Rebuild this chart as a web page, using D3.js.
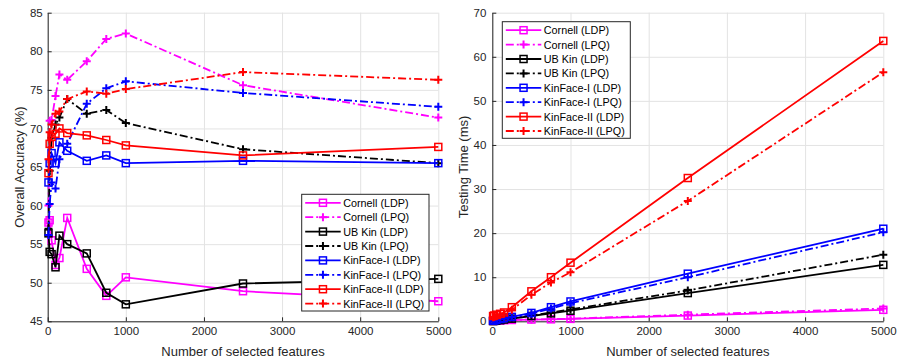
<!DOCTYPE html>
<html>
<head>
<meta charset="utf-8">
<script src="https://cdn.jsdelivr.net/npm/d3@7"></script>
<style>
  html, body { margin: 0; padding: 0; background: #fff; }
  svg { font-family: "Liberation Sans", Arial, Helvetica, sans-serif; }
  .grid line { stroke: #e3e3e3; stroke-width: 1; }
  .grid path { display: none; }
  .axis path, .axis line { stroke: #262626; }
  .axis text { fill: #262626; font-size: 11.5px; }
</style>
</head>
<body>
<svg id="chart" width="900" height="360"></svg>
<script>
// number of selected features (x values)
const features = [10, 25, 50, 100, 150, 250, 500, 750, 1000, 2500, 5000];

const seriesNames = [
  'Cornell (LDP)', 'Cornell (LPQ)', 'UB Kin (LDP)', 'UB Kin (LPQ)',
  'KinFace-I (LDP)', 'KinFace-I (LPQ)', 'KinFace-II (LDP)', 'KinFace-II (LPQ)'
];
const seriesColors = ['#ff00ff', '#ff00ff', '#000000', '#000000', '#0000ff', '#0000ff', '#ff0000', '#ff0000'];

// overall accuracy (%)
const accCornellLdp   = [57.8, 58.1, 55.5, 52.3, 53.2, 58.4, 51.8, 48.3, 50.7, 48.9, 47.6];
const accCornellLpq   = [60.0, 71.0, 71.1, 74.2, 77.0, 76.3, 78.7, 81.6, 82.3, 75.6, 71.4];
const accUbLdp        = [56.4, 54.0, 53.7, 52.0, 56.1, 55.0, 53.8, 48.7, 47.2, 49.9, 50.5];
const accUbLpq        = [57.0, 64.5, 68.8, 70.5, 71.4, 73.8, 71.9, 72.4, 70.7, 67.3, 65.5];
const accKinILdp      = [63.0, 65.5, 66.8, 65.5, 68.2, 67.1, 65.8, 66.5, 65.5, 65.8, 65.5];
const accKinILpq      = [56.2, 60.2, 63.0, 62.2, 66.0, 68.0, 73.2, 75.2, 76.1, 74.6, 72.8];
const accKinIILdp     = [64.2, 68.0, 68.9, 69.3, 70.0, 69.4, 69.1, 68.5, 67.8, 66.5, 67.6];
const accKinIILpq     = [66.0, 69.5, 70.5, 71.9, 72.2, 73.8, 74.8, 74.5, 75.1, 77.3, 76.3];

// testing time (ms)
const timeCornellLdp  = [0.1, 0.1, 0.15, 0.2, 0.25, 0.3, 0.4, 0.45, 0.55, 1.3, 2.6];
const timeCornellLpq  = [0.1, 0.12, 0.15, 0.2, 0.25, 0.3, 0.4, 0.5, 0.6, 1.5, 2.9];
const timeUbLdp       = [0.05, 0.1, 0.15, 0.25, 0.4, 0.6, 1.2, 1.8, 2.4, 6.4, 12.8];
const timeUbLpq       = [0.05, 0.1, 0.15, 0.3, 0.45, 0.7, 1.3, 2.0, 2.7, 7.0, 15.1];
const timeKinILdp     = [0.15, 0.2, 0.3, 0.5, 0.7, 1.0, 1.9, 3.2, 4.5, 10.8, 21.0];
const timeKinILpq     = [0.1, 0.2, 0.3, 0.45, 0.6, 0.9, 1.7, 2.9, 4.1, 10.0, 20.2];
const timeKinIILdp    = [1.2, 1.3, 1.5, 1.7, 2.0, 3.2, 6.8, 10.0, 13.3, 32.5, 63.6];
const timeKinIILpq    = [0.9, 1.0, 1.2, 1.4, 1.7, 2.6, 6.0, 8.8, 11.1, 27.3, 56.5];

const accTicks = [45, 50, 55, 60, 65, 70, 75, 80, 85];
const timeTicks = [0, 10, 20, 30, 40, 50, 60, 70];
const featureTicks = [0, 1000, 2000, 3000, 4000, 5000];

const accSeries = [accCornellLdp, accCornellLpq, accUbLdp, accUbLpq, accKinILdp, accKinILpq, accKinIILdp, accKinIILpq];
const timeSeries = [timeCornellLdp, timeCornellLpq, timeUbLdp, timeUbLpq, timeKinILdp, timeKinILpq, timeKinIILdp, timeKinIILpq];

const svg = d3.select('#chart');

function buildTable(series) {
  return seriesNames.map((name, i) => ({
    name: name,
    color: seriesColors[i],
    lpq: name.indexOf('LPQ') >= 0,
    values: features.map((f, j) => ({ x: f, y: series[i][j] }))
  }));
}

function drawPanel(opts) {
  const x = d3.scaleLinear().domain([0, 5000]).range([opts.left, opts.right]);
  const y = d3.scaleLinear().domain(opts.yDomain).range([opts.bottom, opts.top]);
  const g = svg.append('g');

  // grid
  g.append('g').attr('class', 'grid')
    .attr('transform', `translate(0,${opts.bottom})`)
    .call(d3.axisBottom(x).tickValues(featureTicks).tickSize(-(opts.bottom - opts.top)).tickFormat(''));
  g.append('g').attr('class', 'grid')
    .attr('transform', `translate(${opts.left},0)`)
    .call(d3.axisLeft(y).tickValues(opts.yTicks).tickSize(-(opts.right - opts.left)).tickFormat(''));

  // axes
  g.append('g').attr('class', 'axis')
    .attr('transform', `translate(0,${opts.bottom})`)
    .call(d3.axisBottom(x).tickValues(featureTicks).tickSizeInner(-4).tickSizeOuter(0).tickPadding(6).tickFormat(d3.format('d')));
  g.append('g').attr('class', 'axis')
    .attr('transform', `translate(${opts.left},0)`)
    .call(d3.axisLeft(y).tickValues(opts.yTicks).tickSizeInner(-4).tickSizeOuter(0).tickPadding(opts.yPad).tickFormat(d3.format('d')));

  // axis labels
  g.append('text')
    .attr('x', (opts.left + opts.right) / 2)
    .attr('y', 356)
    .attr('text-anchor', 'middle')
    .attr('fill', '#262626')
    .style('font-size', '13px')
    .text('Number of selected features');
  g.append('text')
    .attr('transform', `translate(${opts.yLabelX},${(opts.top + opts.bottom) / 2}) rotate(-90)`)
    .attr('text-anchor', 'middle')
    .attr('dominant-baseline', 'central')
    .attr('fill', '#262626')
    .style('font-size', '13px')
    .text(opts.yLabel);

  const line = d3.line().x(d => x(d.x)).y(d => y(d.y));
  const table = buildTable(opts.series);

  table.forEach(s => {
    const sg = g.append('g');
    sg.append('path')
      .datum(s.values)
      .attr('d', line)
      .attr('fill', 'none')
      .attr('stroke', s.color)
      .attr('stroke-width', 1.8)
      .attr('stroke-dasharray', s.lpq ? '8,3,2,3' : null);
    drawMarkers(sg, s, d => x(d.x), d => y(d.y));
  });

  drawLegend(g, table, opts.legend);
}

function drawMarkers(g, s, fx, fy) {
  if (s.lpq) {
    g.selectAll('.m').data(s.values).enter().append('path')
      .attr('d', d => `M${fx(d) - 4},${fy(d)}H${fx(d) + 4}M${fx(d)},${fy(d) - 4}V${fy(d) + 4}`)
      .attr('stroke', s.color).attr('stroke-width', 2).attr('fill', 'none');
  } else {
    g.selectAll('.m').data(s.values).enter().append('rect')
      .attr('x', d => fx(d) - 3.5).attr('y', d => fy(d) - 3.5)
      .attr('width', 7).attr('height', 7)
      .attr('stroke', s.color).attr('stroke-width', 1.5).attr('fill', 'none');
  }
}

function drawLegend(g, table, lg) {
  const box = g.append('g');
  box.append('rect')
    .attr('x', lg.x).attr('y', lg.y).attr('width', lg.w).attr('height', lg.h)
    .attr('fill', '#fff').attr('stroke', '#262626').attr('stroke-width', 1);
  table.forEach((s, i) => {
    const cy = lg.y + 8.5 + i * 14.4;
    const x0 = lg.x + 3.5, x1 = lg.x + 39;
    box.append('line')
      .attr('x1', x0).attr('x2', x1).attr('y1', cy).attr('y2', cy)
      .attr('stroke', s.color).attr('stroke-width', 1.8)
      .attr('stroke-dasharray', s.lpq ? '8,3,2,3' : null);
    drawMarkers(box, { color: s.color, lpq: s.lpq, values: [{ x: (x0 + x1) / 2, y: cy }] }, d => d.x, d => d.y);
    box.append('text')
      .attr('x', lg.x + 41.5).attr('y', cy)
      .attr('dominant-baseline', 'central')
      .attr('fill', '#000')
      .style('font-size', '10.8px')
      .text(s.name);
  });
}

drawPanel({
  left: 47.7, right: 438.3, top: 12.7, bottom: 321.3,
  yDomain: [45, 85], yTicks: accTicks, yPad: 5, yLabelX: 19,
  yLabel: 'Overall Accuracy (%)',
  series: accSeries,
  legend: { x: 301.7, y: 194.3, w: 127.3, h: 116.7 }
});

drawPanel({
  left: 492.3, right: 883.3, top: 12.7, bottom: 321.3,
  yDomain: [0, 70], yTicks: timeTicks, yPad: 6, yLabelX: 463.3,
  yLabel: 'Testing Time (ms)',
  series: timeSeries,
  legend: { x: 502.3, y: 21.7, w: 128, h: 116.6 }
});
</script>
</body>
</html>
